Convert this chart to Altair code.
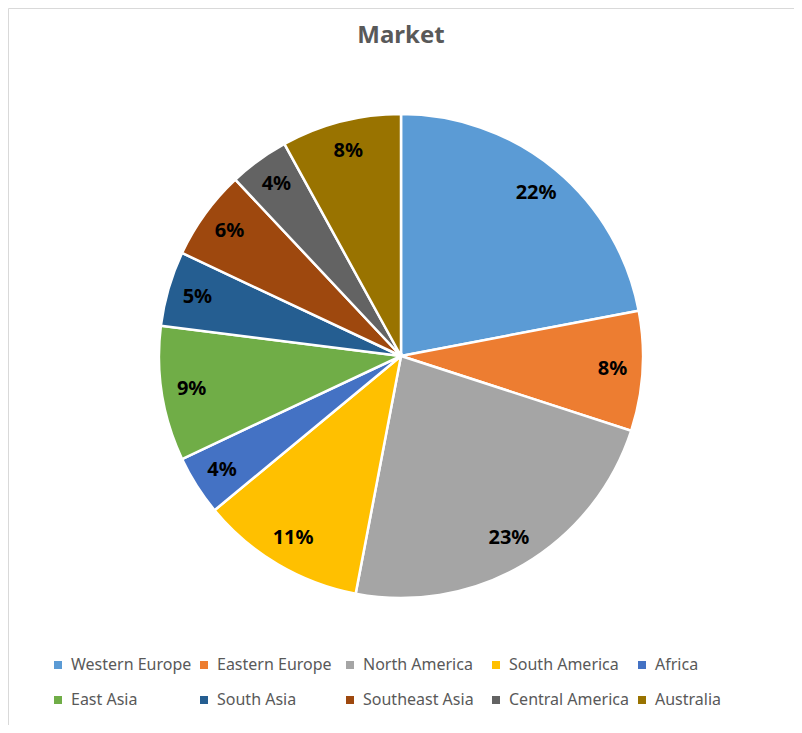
import altair as alt
import pandas as pd

regions = ["Western Europe", "Eastern Europe", "North America", "South America", "Africa",
           "East Asia", "South Asia", "Southeast Asia", "Central America", "Australia"]
shares = [22, 8, 23, 11, 4, 9, 5, 6, 4, 8]
colors = ["#5B9BD5", "#ED7D31", "#A5A5A5", "#FFC000", "#4472C4",
          "#70AD47", "#255E91", "#9E480E", "#636363", "#997300"]
title_text = "Market"

df = pd.DataFrame({
    "region": regions,
    "share": shares,
    "idx": list(range(len(regions))),
    "label": [f"{v}%" for v in shares],
})

W, H = 786, 717
CX, CY = 393, 348
R = 242
FONT = "Noto Sans"

base = alt.Chart(df).encode(
    theta=alt.Theta("share:Q", stack=True),
    order=alt.Order("idx:Q"),
)

pie = base.mark_arc(radius=R, stroke="white", strokeWidth=2.5).encode(
    x=alt.value(CX),
    y=alt.value(CY),
    color=alt.Color(
        "region:N",
        scale=alt.Scale(domain=regions, range=colors),
        sort=regions,
        legend=alt.Legend(
            title=None,
            orient="none",
            legendX=42,
            legendY=649,
            direction="horizontal",
            columns=5,
            gridAlign="all",
            symbolType="square",
            symbolSize=64,
            symbolStrokeWidth=0,
            labelFont=FONT,
            labelFontSize=16,
            labelColor="#595959",
            labelOffset=5,
            columnPadding=4,
            rowPadding=19,
            padding=0,
            labelLimit=300,
        ),
    ),
)

labels = base.mark_text(radius=212, font=FONT, fontSize=20, fontWeight="bold",
                        color="black", align="center", baseline="middle").encode(
    x=alt.value(CX),
    y=alt.value(CY),
    text="label:N",
)

title = alt.Chart(pd.DataFrame({"t": [title_text]})).mark_text(
    font=FONT, fontSize=24, fontWeight="bold", color="#595959",
    align="center", baseline="middle"
).encode(x=alt.value(CX), y=alt.value(28), text="t:N")

chart = alt.layer(pie, labels, title).properties(
    width=W, height=H, padding=0, autosize=alt.AutoSizeParams(type="none"),
).configure_view(stroke="#D9D9D9", strokeWidth=1)

chart.save("out.html", embed_options={"renderer": "svg", "actions": False})
